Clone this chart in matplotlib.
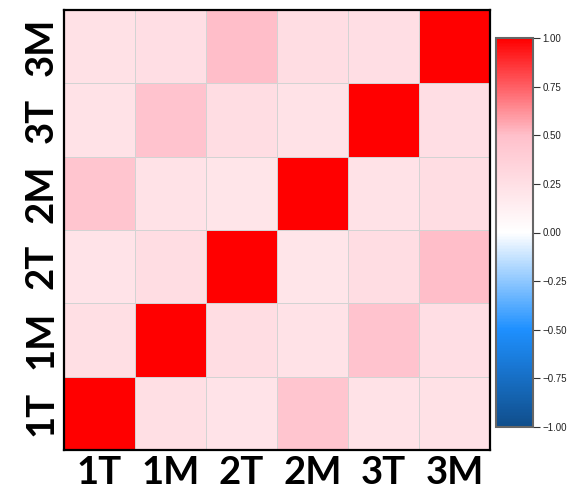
import numpy as np
import matplotlib.pyplot as plt
from matplotlib.colors import LinearSegmentedColormap

labels = ["1T", "1M", "2T", "2M", "3T", "3M"]

# upper triangle of the correlation matrix, row by row
upper = {
    ("1T", "1M"): 0.25, ("1T", "2T"): 0.22, ("1T", "2M"): 0.46, ("1T", "3T"): 0.23, ("1T", "3M"): 0.24,
    ("1M", "2T"): 0.27, ("1M", "2M"): 0.23, ("1M", "3T"): 0.47, ("1M", "3M"): 0.26,
    ("2T", "2M"): 0.21, ("2T", "3T"): 0.27, ("2T", "3M"): 0.50,
    ("2M", "3T"): 0.23, ("2M", "3M"): 0.27,
    ("3T", "3M"): 0.26,
}
cbar_ticks = [-1.0, -0.75, -0.5, -0.25, 0.0, 0.25, 0.5, 0.75, 1.0]

n = len(labels)
corr = np.eye(n)
for (a, b), v in upper.items():
    i, j = labels.index(a), labels.index(b)
    corr[i, j] = corr[j, i] = v

cmap = LinearSegmentedColormap.from_list(
    "corr", ["#104E8B", "#1E90FF", "#FFFFFF", "#FFC0CB", "#FF0000"])

fig = plt.figure(figsize=(5.75, 4.96), dpi=100)
ax = fig.add_axes([64 / 575, 46 / 496, 426 / 575, 440 / 496])
mesh = ax.pcolormesh(corr, cmap=cmap, vmin=-1, vmax=1,
                     edgecolors="#D3D3D3", linewidth=0.7)
ax.set_xlim(0, n)
ax.set_ylim(0, n)
for s in ax.spines.values():
    s.set_linewidth(1.6)
    s.set_color("black")

lab_font = dict(family=["Lato", "DejaVu Sans"], fontweight="bold", fontsize=27.5)
ax.set_xticks(np.arange(n) + 0.5)
ax.set_xticklabels(labels, **lab_font)
ax.set_yticks(np.arange(n) + 0.5)
ax.set_yticklabels(labels, rotation=90, va="center", **lab_font)
ax.tick_params(length=0, pad=4)

cax = fig.add_axes([496 / 575, (496 - 427) / 496, 37 / 575, 389 / 496])
cb = fig.colorbar(mesh, cax=cax, ticks=cbar_ticks)
cb.ax.set_yticklabels([("%.2f" % t).replace("-", "\u2212") for t in cbar_ticks],
                      family=["Liberation Sans", "DejaVu Sans"])
cb.outline.set_edgecolor("#666666")
cb.outline.set_linewidth(1.5)
cb.ax.tick_params(labelsize=7, length=5, width=0.8, color="#333333",
                  labelcolor="#222222", pad=2)

fig.savefig("out.png", dpi=100)
